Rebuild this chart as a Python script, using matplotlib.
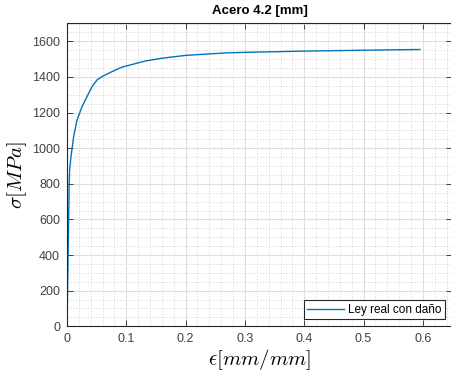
import numpy as np
import matplotlib
matplotlib.use("Agg")
import matplotlib.pyplot as plt
from matplotlib.ticker import MultipleLocator

# curva tension-deformacion
strain = [0.0, 0.0037, 0.0045, 0.0067, 0.0112, 0.0169, 0.0253, 0.0337, 0.042,
          0.0506, 0.059, 0.0759, 0.0927, 0.1315, 0.16, 0.2, 0.268, 0.3,
          0.4, 0.5, 0.595]
stress = [0, 800, 880, 952, 1065, 1158, 1233, 1289, 1345,
          1383, 1402, 1430, 1455, 1489, 1505, 1521, 1535, 1538,
          1545, 1550, 1554]

plt.rcParams['font.family'] = ['Liberation Sans', 'DejaVu Sans']
plt.rcParams['mathtext.fontset'] = 'cm'

fig = plt.figure(figsize=(4.52, 3.74), dpi=100)
ax = fig.add_axes([67/452, 47.7/374, 385.5/452, 302.8/374])

ax.plot(strain, stress, color='#0072BD', lw=1.0, label='Ley real con daño')

ax.set_xlim(0, 0.65)
ax.set_ylim(0, 1700)
ax.xaxis.set_major_locator(MultipleLocator(0.1))
ax.xaxis.set_minor_locator(MultipleLocator(0.02))
ax.yaxis.set_major_locator(MultipleLocator(200))
ax.yaxis.set_minor_locator(MultipleLocator(50))
ax.set_xticks(np.arange(0, 0.65, 0.1))
ax.set_xticklabels(['0', '0.1', '0.2', '0.3', '0.4', '0.5', '0.6'])

ax.grid(which='major', color='#dedede', lw=0.8, ls='-')
ax.grid(which='minor', color='#d4d4d4', lw=0.6, ls=(0, (1.5, 2)))
ax.set_axisbelow(True)

ax.tick_params(which='both', direction='in', top=True, right=True,
               colors='#262626', labelcolor='#404040', labelsize=9, pad=5)
ax.tick_params(which='major', length=4, width=0.6)
ax.tick_params(which='minor', length=0)
for s in ax.spines.values():
    s.set_color('#262626')
    s.set_linewidth(0.8)

ax.set_title('Acero 4.2 [mm]', fontsize=9.5, fontweight='bold', pad=7)
ax.set_xlabel(r'$\epsilon [mm/mm]$', fontsize=15, labelpad=1)
ax.set_ylabel(r'$\sigma [MPa]$', fontsize=15, labelpad=2)

leg = ax.legend(loc='lower right', fontsize=8.5, fancybox=False,
                edgecolor='#262626', framealpha=1, handlelength=3.1,
                borderpad=0.3, borderaxespad=0.6, handletextpad=0.4)
leg.get_frame().set_linewidth(0.8)

fig.savefig('out.png', dpi=100)
